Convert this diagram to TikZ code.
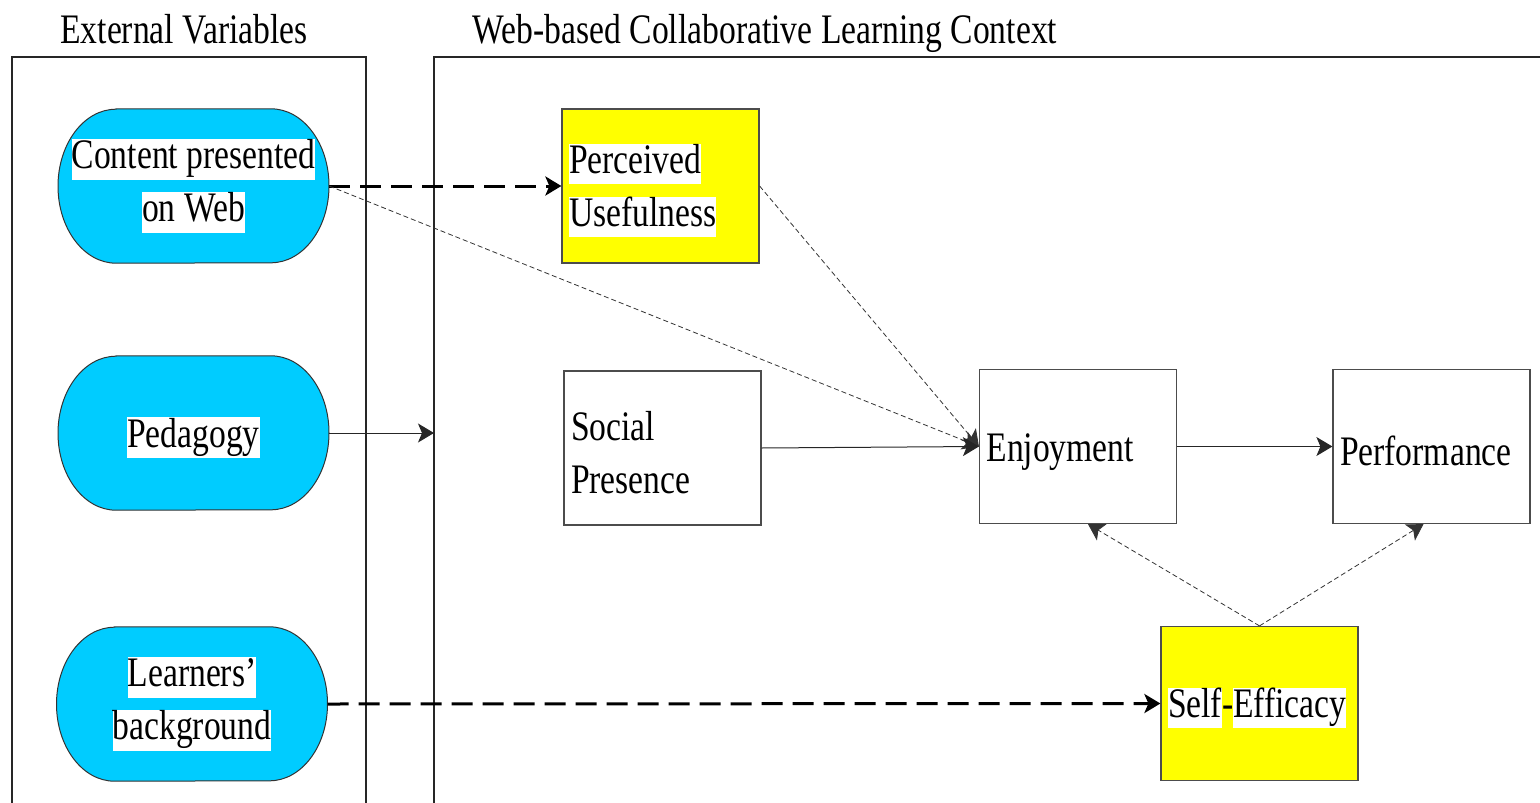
\documentclass[tikz,border=0pt]{standalone}
\usepackage{fontspec}
\setmainfont[FakeStretch=0.8]{Liberation Serif}
\usetikzlibrary{positioning, calc, backgrounds, arrows.meta}
\tikzset{>={Stealth[length=16pt,width=19pt,inset=4pt]}}
\definecolor{webcyan}{RGB}{0,204,255}
\definecolor{boxyellow}{RGB}{255,255,0}
\newcommand{\hl}[1]{{\setlength{\fboxsep}{0pt}\colorbox{white}{\rule[-0.26em]{0pt}{0.97em}#1}}}
\tikzset{
    diagfont/.style={font=\fontsize{42}{53}\selectfont},
    lowered/.style={execute at begin node={\rule{0pt}{39pt}}},
    extvar/.style={diagfont, lowered, minimum width=271pt, minimum height=154pt, align=center, inner sep=0pt},
    factor/.style={diagfont, lowered, draw=black!70, line width=1.2pt, minimum height=154pt, text width=183pt, inner xsep=7pt, align=left},
    keyfactor/.style={factor, fill=boxyellow},
    thickdash/.style={->, line width=3pt, dash pattern=on 21pt off 10pt},
    thindash/.style={->, line width=0.8pt, dash pattern=on 5pt off 3pt, black!80},
    link/.style={->, line width=1pt, black!85},
    panel/.style={line width=1.5pt, black!85},
}

\begin{document}
\begin{tikzpicture}[x=1pt, y=1pt]
    \useasboundingbox (0,0) rectangle (1540,-803);
    % panels and titles
    \node[diagfont, anchor=base] (exttitle) at (184,-43) {External Variables};
    \node[diagfont, anchor=base] (ctxtitle) at (765,-43) {Web-based Collaborative Learning Context};
    \draw[panel] (12,-803) -- (12,-57) -- (366,-57) -- (366,-803);
    \draw[panel] (434,-803) -- (434,-57) -- (1540,-57);
    \coordinate (ctxedge) at (434,-433);
    % external variables
    \node[extvar] (content) at (193.5,-186) {\hl{Content presented}\\\hl{on Web}};
    \node[extvar] (pedagogy) at (193.5,-433) {\hl{Pedagogy}};
    \node[extvar] (learners) at (192,-704) {\hl{Learners’}\\\hl{background}};
    \begin{scope}[on background layer]
        \foreach \n in {content, pedagogy, learners}
            \filldraw[fill=webcyan, draw=black!80, line width=1pt] ($(\n.north)+(-77.5,0)$) -- ($(\n.north)+(77.5,0)$) arc(90:-90:58 and 77) -- ($(\n.south)+(-77.5,0)$) arc(270:90:58 and 77) -- cycle;
    \end{scope}
    % learning context
    \node[keyfactor] (useful) at (660.5,-186) {\hl{Perceived}\\\hl{Usefulness}};
    \node[factor] (social) at (662.5,-448) {Social\\Presence};
    \node[factor] (enjoy) at (1078,-446.5) {Enjoyment};
    \node[factor] (perform) at (1431.5,-446.5) {Performance};
    \node[keyfactor] (efficacy) at (1259.5,-703.5) {\hl{Self}-\hl{Efficacy}};
    % connectors
    \draw[thickdash] (content.east) -- (useful.west);
    \draw[thickdash] (learners.east) -- (efficacy.west);
    \draw[thindash] (content.east) -- (enjoy.west);
    \draw[thindash] (useful.east) -- (enjoy.west);
    \draw[link] (social.east) -- (enjoy.west);
    \draw[link] (pedagogy.east) -- (ctxedge);
    \draw[link] (enjoy.east) -- (perform.west);
    \draw[thindash] (efficacy.north) -- ($(enjoy.south)+(10,0)$);
    \draw[thindash] (efficacy.north) -- ($(perform.south)+(-8,0)$);
\end{tikzpicture}
\end{document}
